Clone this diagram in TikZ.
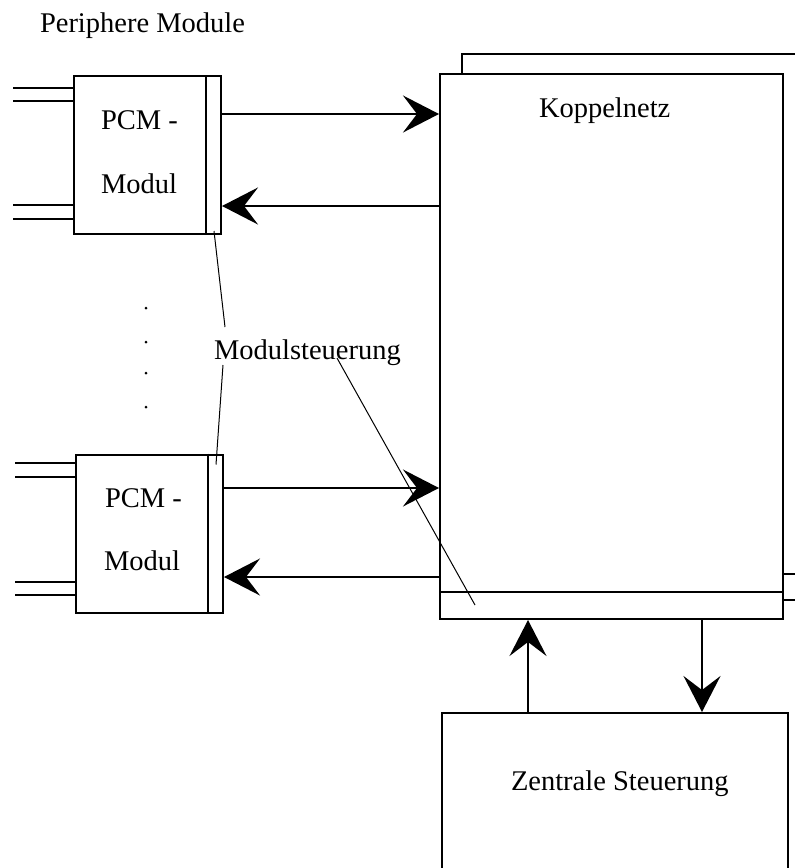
\documentclass[tikz,border=0pt]{standalone}
\usepackage{fontspec}
\setmainfont{Liberation Serif}
\usetikzlibrary{arrows.meta,positioning}

\begin{document}
\begin{tikzpicture}[x=1pt,y=-1pt,>={Stealth[length=36pt,width=37pt,inset=14pt]},
                    line width=2pt,font=\fontsize{28.5}{34}\selectfont]
  \tikzstyle{block}=[draw,inner sep=0pt]
  \tikzstyle{modul}=[block,minimum width=147pt,minimum height=158pt]
  \tikzstyle{txt}=[inner sep=0pt,anchor=base west]
  \tikzstyle{lead}=[line width=1pt]

  \clip (0,0) rectangle (795,868);

  % Koppelnetz, zweite Ebene dahinter
  \draw (462,74) -- (462,54) -- (800,54);
  \node[block,minimum width=343pt,minimum height=545pt] (KN) at (611.5,346.5) {};
  \draw ([yshift=28pt]KN.south west) -- ([yshift=28pt]KN.south east);
  \draw ([yshift=46pt]KN.south east) -- ++(20,0);
  \draw ([yshift=20pt]KN.south east) -- ++(20,0);

  \node[modul] (M1) at (147.5,155)   {};
  \node[modul] (M2) at (149.5,533.5) {};
  \node[block,minimum width=346pt,minimum height=200pt] (ZS) at (615,813) {};

  % Leitungen und Modulsteuerung
  \foreach \m/\dy in {M1/67,M1/54,M1/-50,M1/-64,M2/70.5,M2/56.5,M2/-48.5,M2/-61.5}
    \draw ([yshift=\dy pt]\m.west) -- ++(-60,0);
  \foreach \m in {M1,M2}
    \draw ([xshift=-16pt]\m.north east) -- ([xshift=-16pt]\m.south east);

  \foreach \m/\up/\dn in {M1/41/-51,M2/45.5/-43.5} {
    \path ([yshift=\up pt]\m.east) coordinate (\m o);
    \path ([yshift=\dn pt]\m.east) coordinate (\m i);
    \draw[->] (\m o) -- (\m o -| KN.west);
    \draw[->] (\m i -| KN.west) -- (\m i);
  }

  \path ([xshift=-87pt]ZS.north) coordinate (zo);
  \path ([xshift=87pt]ZS.north)  coordinate (zi);
  \draw[->] (zo) -- (zo |- KN.south);
  \draw[->] (zi |- KN.south) -- (zi);

  % Texte
  \node[txt] (peri) at (39,32)   {Periphere Module};
  \node[txt] (pcm1) at (100,129) {PCM -};
  \node[txt] (mod1) at (100,193) {Modul};
  \node[txt] (pcm2) at (104,507) {PCM -};
  \node[txt] (mod2) at (103,570) {Modul};
  \node[txt] (kn)   at (538,117) {Koppelnetz};
  \node[txt] (MS)   at (213,359) {Modulsteuerung};
  \node[txt] (zs)   at (510,790) {Zentrale Steuerung};

  \foreach \y in {308,342,373,407}
    \fill (146,\y) circle (1.5);

  \coordinate (ms1) at (225,327);
  \coordinate (ms2) at (223,365);
  \coordinate (ms3) at (337,358);
  \draw[lead] ([xshift=-8pt,yshift=4pt]M1.south east) -- (ms1);
  \draw[lead] (ms2) -- ([xshift=-8pt,yshift=-11pt]M2.north east);
  \draw[lead] (ms3) -- ([xshift=36pt,yshift=15pt]KN.south west);
\end{tikzpicture}
\end{document}
